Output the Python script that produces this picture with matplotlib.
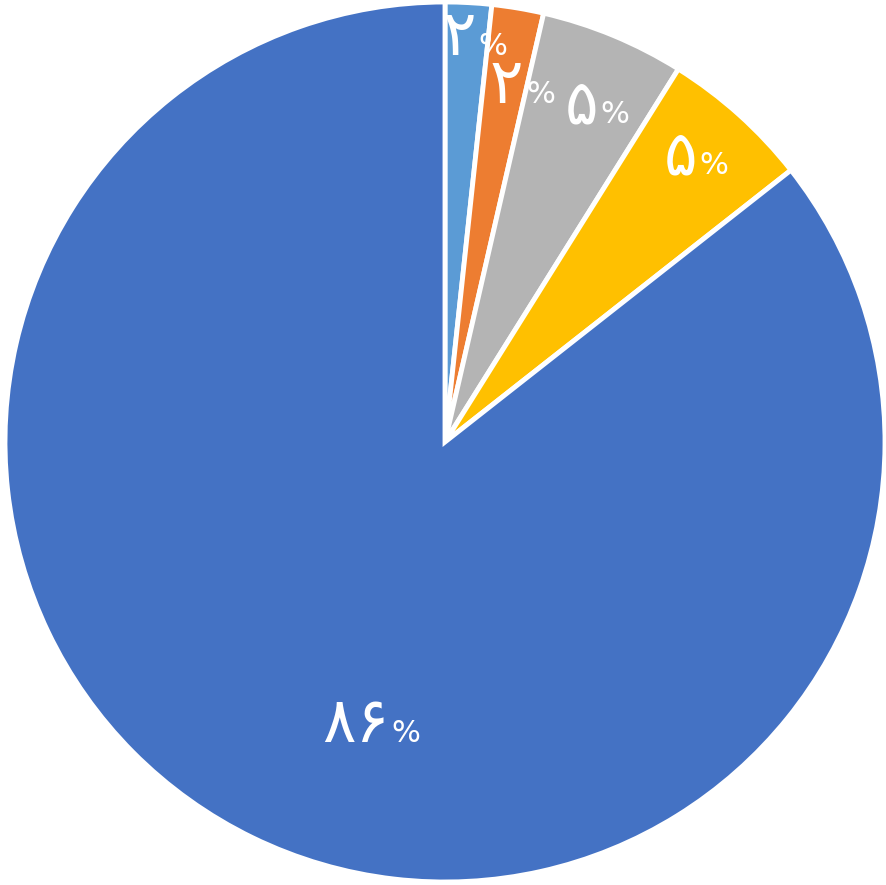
import numpy as np
import matplotlib.pyplot as plt

# slice shares (percent), clockwise from 12 o'clock
values = [1.7, 1.9, 5.3, 5.5, 85.6]
colors = ['#5B9BD5', '#ED7D31', '#B4B4B4', '#FFC000', '#4472C4']
digits = ['۲', '۲', '۵', '۵', '۸۶']

# where each label sits (digits end / percent sign starts), in pie radii
label_pos = [(0.07, 0.88), (0.178, 0.77), (0.348, 0.725), (0.573, 0.609), (-0.127, -0.682)]

fig = plt.figure(figsize=(8.86, 8.85), dpi=100)
ax = fig.add_axes([0, 0, 1, 1])

wedges, _ = ax.pie(values, colors=colors, startangle=90, counterclock=False,
                   radius=1.0, wedgeprops=dict(edgecolor='white', linewidth=3.5))

for (x, y), d in zip(label_pos, digits):
    ax.text(x, y, d, ha='right', va='baseline', color='white',
            fontsize=45, fontfamily='DejaVu Sans')
    ax.text(x + 0.006, y, '%', ha='left', va='baseline', color='white',
            fontsize=22, fontfamily='DejaVu Sans')

ax.set_xlim(-445 / 440, 441 / 440)
ax.set_ylim(-443 / 440, 442 / 440)
ax.set_aspect('equal')
ax.axis('off')

fig.savefig('out.png', dpi=100)
